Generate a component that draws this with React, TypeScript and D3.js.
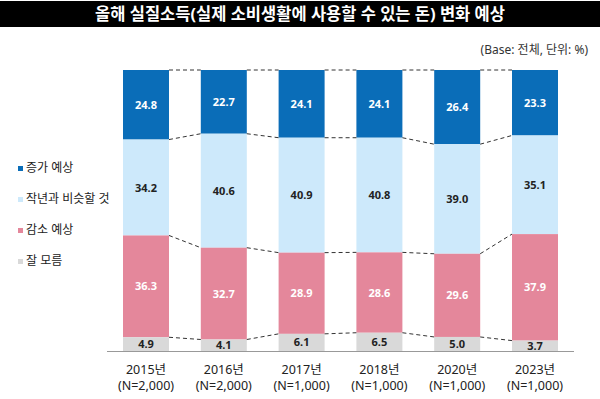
import React, { useEffect, useRef } from "react";
import * as d3 from "d3";

const years = ["2015년", "2016년", "2017년", "2018년", "2020년", "2023년"];
const samples = ["(N=2,000)", "(N=2,000)", "(N=1,000)", "(N=1,000)", "(N=1,000)", "(N=1,000)"];
const seriesNames = ["증가 예상", "작년과 비슷할 것", "감소 예상", "잘 모름"];
const increase = [24.8, 22.7, 24.1, 24.1, 26.4, 23.3];
const similar = [34.2, 40.6, 40.9, 40.8, 39.0, 35.1];
const decrease = [36.3, 32.7, 28.9, 28.6, 29.6, 37.9];
const unknown = [4.9, 4.1, 6.1, 6.5, 5.0, 3.7];

const W = 600,
  H = 399;
const colors = ["#0a6db8", "#cde9fb", "#e4879b", "#d9d9d9"];
const labelColors = ["#ffffff", "#222222", "#ffffff", "#222222"];
const font = "'Noto Sans', 'Noto Sans CJK KR', sans-serif";

const App = () => {
  const ref = useRef<SVGSVGElement>(null);

  useEffect(() => {
    const svg = d3.select(ref.current);
    svg.selectAll("*").remove();

    const keys = ["inc", "sim", "dec", "unk"];
    const rows = years.map((y, i) => ({
      year: y,
      inc: increase[i],
      sim: similar[i],
      dec: decrease[i],
      unk: unknown[i],
    }));
    // increase sits on top, so stack from the top down
    const layers = d3.stack<any>().keys(keys).offset(d3.stackOffsetExpand)(rows);

    const x = d3.scalePoint().domain(years).range([146, 535]);
    const bw = 46;
    const y = d3.scaleLinear().domain([0, 1]).range([70, 351]);

    // title bar
    svg.append("rect").attr("x", 0).attr("y", 1).attr("width", W).attr("height", 26).attr("fill", "#000");
    svg
      .append("text")
      .attr("x", W / 2)
      .attr("y", 20)
      .attr("text-anchor", "middle")
      .attr("fill", "#fff")
      .attr("font-size", 16.5)
      .attr("font-weight", "bold")
      .attr("font-family", font)
      .text("올해 실질소득(실제 소비생활에 사용할 수 있는 돈) 변화 예상");

    svg
      .append("text")
      .attr("x", 588)
      .attr("y", 54)
      .attr("text-anchor", "end")
      .attr("fill", "#333")
      .attr("font-size", 12)
      .attr("font-family", font)
      .text("(Base: 전체, 단위: %)");

    // bars + labels
    layers.forEach((layer, k) => {
      svg
        .append("g")
        .selectAll("rect")
        .data(layer)
        .enter()
        .append("rect")
        .attr("x", (d) => x(d.data.year)! - bw / 2)
        .attr("width", bw)
        .attr("y", (d) => y(d[0]))
        .attr("height", (d) => y(d[1]) - y(d[0]))
        .attr("fill", colors[k]);

      svg
        .append("g")
        .selectAll("text")
        .data(layer)
        .enter()
        .append("text")
        .attr("x", (d) => x(d.data.year)!)
        .attr("y", (d) => (y(d[0]) + y(d[1])) / 2 + 4)
        .attr("text-anchor", "middle")
        .attr("fill", labelColors[k])
        .attr("font-size", 11)
        .attr("font-weight", "bold")
        .attr("font-family", font)
        .text((d) => (d.data[keys[k]] as number).toFixed(1));
    });

    // dashed connectors between neighbouring bars
    const conn = svg.append("g").attr("stroke", "#333").attr("stroke-width", 1).attr("stroke-dasharray", "4,3");
    for (let i = 0; i < years.length - 1; i++) {
      const x1 = x(years[i])! + bw / 2;
      const x2 = x(years[i + 1])! - bw / 2;
      conn.append("line").attr("x1", x1).attr("x2", x2).attr("y1", y(0)).attr("y2", y(0));
      for (let k = 0; k < 3; k++) {
        conn
          .append("line")
          .attr("x1", x1)
          .attr("x2", x2)
          .attr("y1", y(layers[k][i][1]))
          .attr("y2", y(layers[k][i + 1][1]));
      }
    }

    // baseline
    svg.append("line").attr("x1", 107).attr("x2", 574).attr("y1", 351.5).attr("y2", 351.5).attr("stroke", "#999").attr("stroke-width", 1);

    // x labels
    const xl = svg.append("g").attr("font-family", font).attr("font-size", 12.5).attr("fill", "#222").attr("text-anchor", "middle");
    years.forEach((yr, i) => {
      const cx = x(yr)!;
      xl.append("text").attr("x", cx).attr("y", 374).text(yr);
      xl.append("text").attr("x", cx).attr("y", 390).text(samples[i]);
    });

    // legend
    const lg = svg.append("g").attr("font-family", font).attr("font-size", 12).attr("fill", "#222");
    seriesNames.forEach((name, k) => {
      const ly = 171 + k * 31;
      lg.append("rect").attr("x", 18).attr("y", ly - 5).attr("width", 5).attr("height", 5).attr("fill", colors[k]);
      lg.append("text").attr("x", 26).attr("y", ly + 1).text(name);
    });
  }, []);

  return (
    <svg
      ref={ref}
      width={W}
      height={H}
      style={{ position: "absolute", left: 0, top: 0, background: "#fff" }}
    />
  );
};

export default App;
